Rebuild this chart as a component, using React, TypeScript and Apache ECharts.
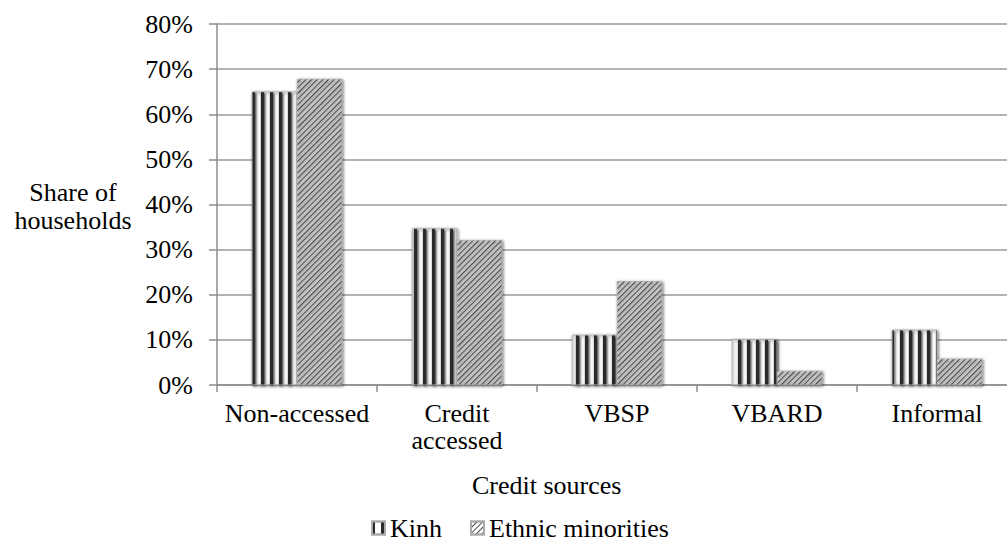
import React, { useEffect, useRef } from "react";
import * as echarts from "echarts";

const categories = ["Non-accessed", "Credit accessed", "VBSP", "VBARD", "Informal"];
const kinh = [65.0, 34.7, 11.1, 10.1, 12.2];
const ethnic = [67.8, 32.1, 23.0, 3.1, 5.8];
const seriesNames = ["Kinh", "Ethnic minorities"];
const yTicks = [0, 10, 20, 30, 40, 50, 60, 70, 80];
const yTitle = "Share of\nhouseholds";
const xTitle = "Credit sources";

const FONT = "Liberation Serif";

export default function App() {
  const ref = useRef<HTMLDivElement>(null);
  useEffect(() => {
    if (!ref.current) return;
    const chart = echarts.init(ref.current, undefined, { renderer: "svg" });
    const barStyleBase = {
      color: "#ffffff",
      borderColor: "#aaaaaa",
      borderWidth: 0.5,
      shadowBlur: 3,
      shadowColor: "rgba(0,0,0,0.3)",
      shadowOffsetX: 1,
      shadowOffsetY: 1,
    };
    chart.setOption({
      animation: false,
      backgroundColor: "#ffffff",
      textStyle: { fontFamily: FONT, color: "#000" },
      grid: { left: 217, top: 24, width: 800, height: 361, containLabel: false },
      legend: {
        left: 371,
        top: 515,
        padding: 0,
        itemWidth: 13,
        itemHeight: 13,
        itemGap: 28,
        icon: "rect",
        textStyle: { fontFamily: FONT, fontSize: 26, color: "#000" },
        data: seriesNames,
      },
      graphic: [
        {
          type: "text",
          left: 13,
          top: 178,
          style: {
            text: yTitle,
            fontFamily: FONT,
            fontSize: 26,
            fill: "#000",
            textAlign: "center",
            lineHeight: 28,
            width: 120,
          },
        },
        {
          type: "text",
          left: 472,
          top: 472,
          style: { text: xTitle, fontFamily: FONT, fontSize: 26, fill: "#000" },
        },
      ],
      xAxis: {
        type: "category",
        data: categories,
        axisLine: { lineStyle: { color: "#8c8c8c", width: 1.5 } },
        axisTick: { show: true, length: 7, lineStyle: { color: "#8c8c8c", width: 1.5 } },
        axisLabel: {
          fontFamily: FONT,
          fontSize: 26,
          color: "#000",
          margin: 15,
          lineHeight: 27,
          interval: 0,
          formatter: (v: string) => (v === "Credit accessed" ? "Credit\naccessed" : v),
        },
      },
      yAxis: {
        type: "value",
        min: yTicks[0],
        max: yTicks[yTicks.length - 1],
        interval: 10,
        axisLine: { show: true, lineStyle: { color: "#8c8c8c", width: 1.5 } },
        axisTick: { show: true, length: 8, lineStyle: { color: "#8c8c8c", width: 1.5 } },
        splitLine: { show: true, lineStyle: { color: "#9a9a9a", width: 1.5 } },
        axisLabel: {
          fontFamily: FONT,
          fontSize: 26,
          color: "#000",
          margin: 24,
          formatter: "{value}%",
        },
      },
      series: [
        {
          name: seriesNames[0],
          type: "bar",
          data: kinh,
          barGap: "0%",
          barCategoryGap: "43.75%",
          itemStyle: {
            ...barStyleBase,
            decal: {
              symbol: "rect",
              symbolSize: 1,
              dashArrayX: [2.5, 5.5],
              dashArrayY: [1, 0],
              rotation: 0,
              color: "#2a2a2a",
            },
          },
        },
        {
          name: seriesNames[1],
          type: "bar",
          data: ethnic,
          barGap: "0%",
          barCategoryGap: "43.75%",
          itemStyle: {
            ...barStyleBase,
            decal: {
              symbol: "rect",
              symbolSize: 1,
              dashArrayX: [1, 0],
              dashArrayY: [1, 2.4],
              rotation: -Math.PI / 4,
              color: "#444444",
            },
          },
        },
      ],
    });
    return () => chart.dispose();
  }, []);
  return (
    <div style={{ position: "fixed", left: 0, top: 0, width: 1007, height: 545, overflow: "hidden", background: "#fff" }}>
      <div ref={ref} style={{ width: 1030, height: 545 }} />
    </div>
  );
}
